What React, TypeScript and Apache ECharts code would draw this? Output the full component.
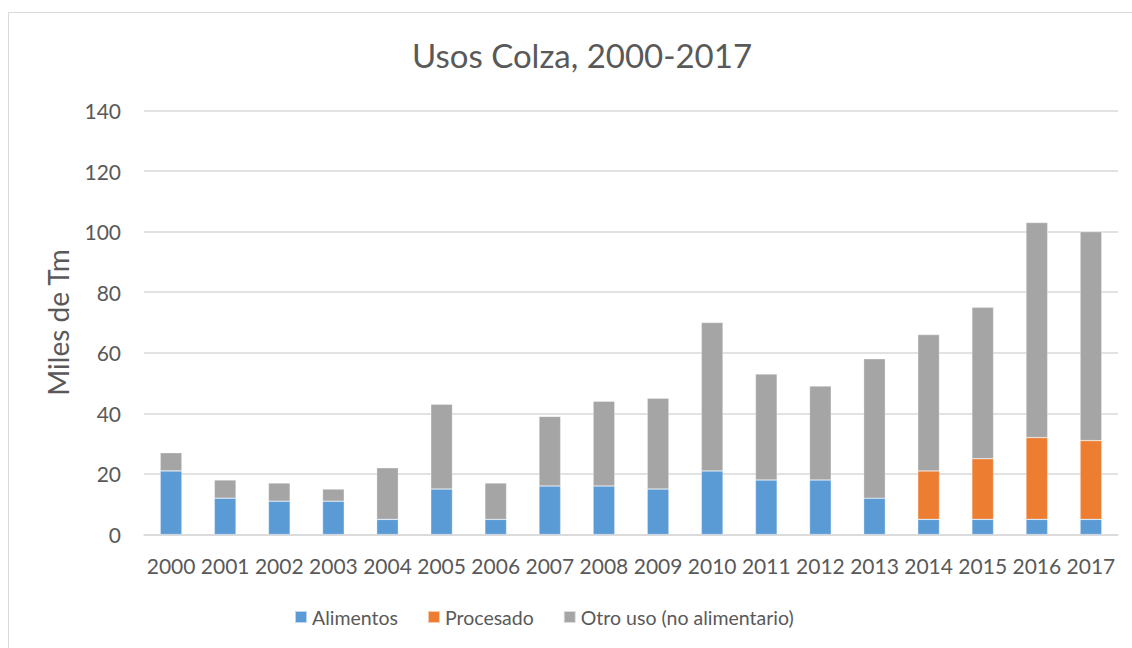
import React, { useEffect, useRef } from "react";
import * as echarts from "echarts";

const years = ["2000","2001","2002","2003","2004","2005","2006","2007","2008","2009","2010","2011","2012","2013","2014","2015","2016","2017"];
const alimentos = [21, 12, 11, 11, 5, 15, 5, 16, 16, 15, 21, 18, 18, 12, 5, 5, 5, 5];
const procesado = [null, null, null, null, null, null, null, null, null, null, null, null, null, null, 16, 20, 27, 26];
const otroUso = [6, 6, 6, 4, 17, 28, 12, 23, 28, 30, 49, 35, 31, 46, 45, 50, 71, 69];
const seriesNames = ["Alimentos", "Procesado", "Otro uso (no alimentario)"];
const colors = ["#5B9BD5", "#ED7D31", "#A5A5A5"];

const FONT = "Lato, 'Open Sans', sans-serif";
const TXT = "#595959";

export default function App() {
  const ref = useRef<HTMLDivElement>(null);
  useEffect(() => {
    if (!ref.current) return;
    const chart = echarts.init(ref.current, null, { renderer: "svg" });
    const data = [alimentos, procesado, otroUso];
    chart.setOption({
      animation: false,
      backgroundColor: "#fff",
      textStyle: { fontFamily: FONT, color: TXT },
      graphic: [
        {
          type: "rect",
          shape: { x: 8.5, y: 12.5, width: 1130, height: 640 },
          style: { fill: "none", stroke: "#D9D9D9", lineWidth: 1 },
          silent: true,
          z: -1,
        },
      ],
      title: {
        text: "Usos Colza, 2000-2017",
        left: 577,
        top: 33,
        textAlign: "center",
        textStyle: { fontFamily: FONT, fontSize: 33, fontWeight: "normal", color: TXT },
      },
      legend: {
        left: 294,
        top: 607,
        padding: 0,
        itemWidth: 12,
        itemHeight: 12,
        itemGap: 29,
        icon: "rect",
        textStyle: { fontFamily: FONT, fontSize: 19.5, color: TXT },
        data: seriesNames,
      },
      grid: { left: 144, right: 14, top: 110.5, bottom: 113.5, containLabel: false },
      xAxis: {
        type: "category",
        data: years,
        axisLine: { lineStyle: { color: "#D9D9D9", width: 1.5 } },
        axisTick: { show: false },
        axisLabel: { fontFamily: FONT, fontSize: 21, color: TXT, margin: 20, interval: 0 },
      },
      yAxis: {
        type: "value",
        min: 0,
        max: 140,
        interval: 20,
        name: "Miles de Tm",
        nameLocation: "middle",
        nameGap: 72,
        nameTextStyle: { fontFamily: FONT, fontSize: 28, color: TXT },
        axisLine: { show: false },
        axisTick: { show: false },
        axisLabel: { fontFamily: FONT, fontSize: 21, color: TXT, margin: 23 },
        splitLine: { lineStyle: { color: "#D9D9D9", width: 1.5 } },
      },
      series: seriesNames.map((name, i) => ({
        name,
        type: "bar",
        stack: "total",
        barWidth: "40%",
        data: data[i],
        itemStyle: { color: colors[i], borderColor: "rgba(255,255,255,0.6)", borderWidth: 0.5 },
      })),
    });
    return () => chart.dispose();
  }, []);
  return (
    <div
      ref={ref}
      style={{ position: "absolute", left: 0, top: 0, width: 1132, height: 648 }}
    />
  );
}
